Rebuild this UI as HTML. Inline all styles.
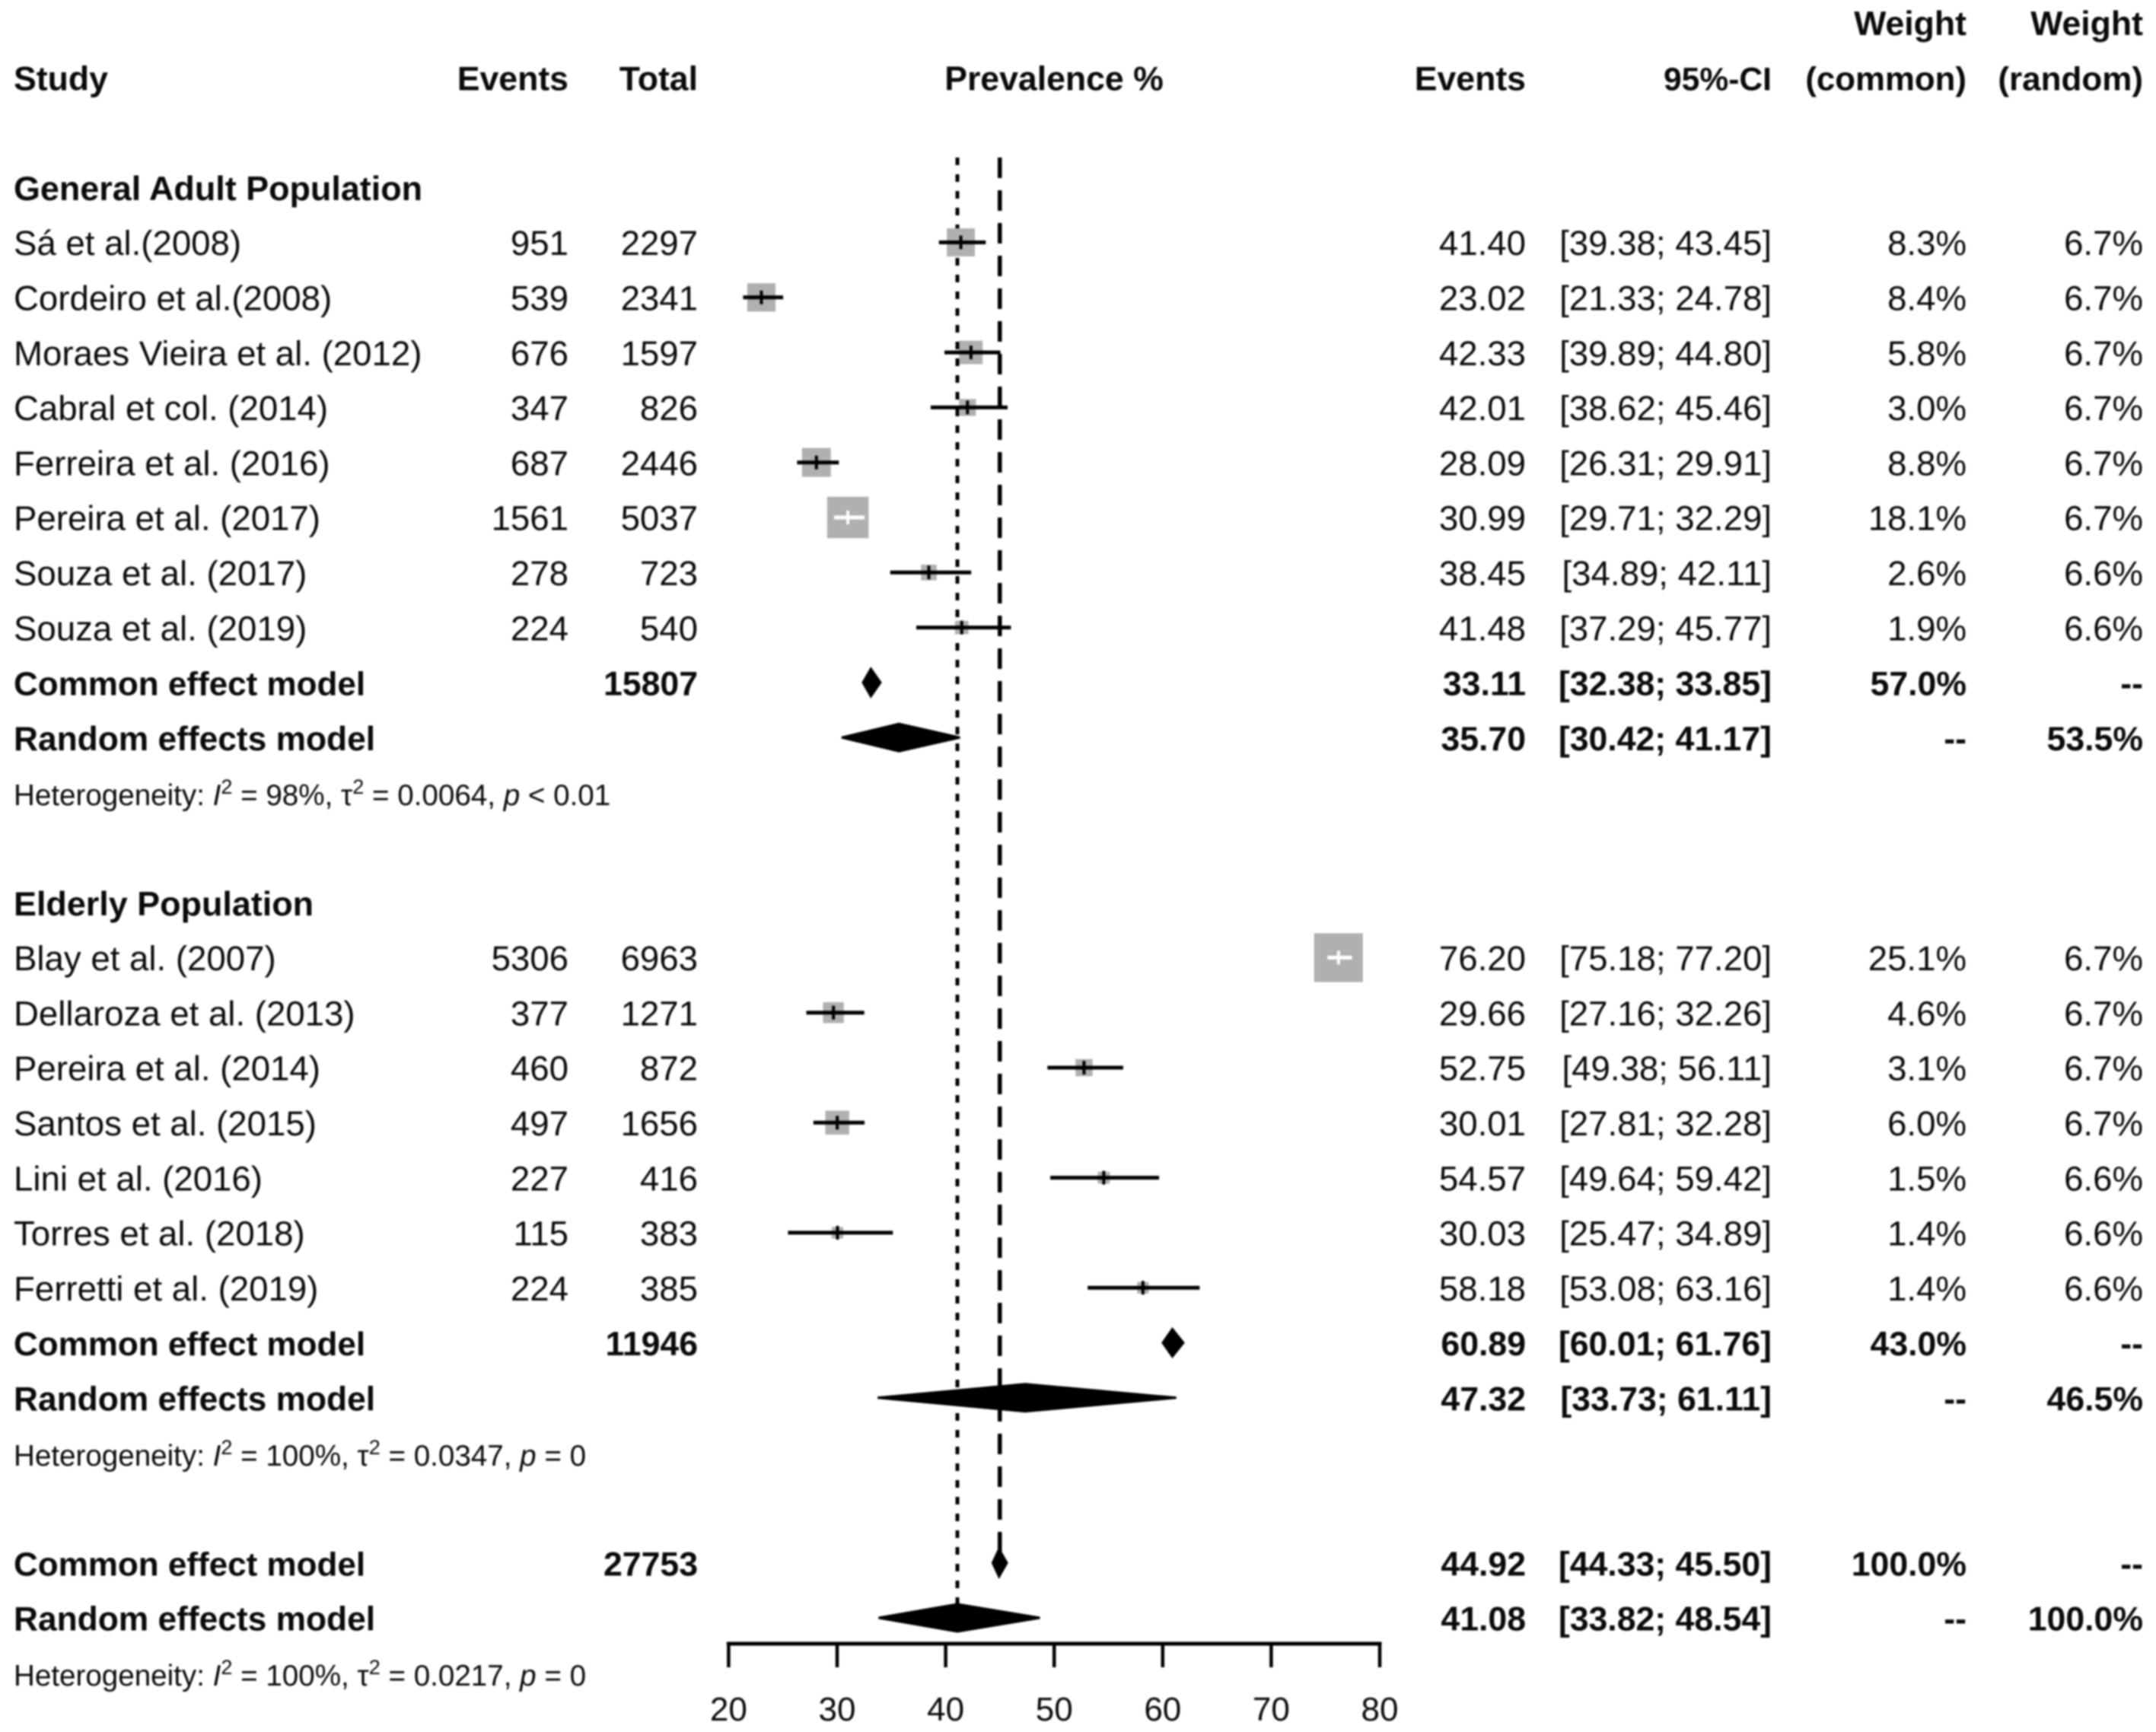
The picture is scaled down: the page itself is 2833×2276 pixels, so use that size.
<!DOCTYPE html>
<html lang="en">
<head>
<meta charset="utf-8">
<title>Forest plot of prevalence</title>
<style>
html,body{margin:0;padding:0;background:#fff;width:2833px;height:2276px;overflow:hidden}
svg{display:block;filter:blur(1px)}
text{font-family:"Liberation Sans",Arial,sans-serif;fill:#0a0a0a}
</style>
</head>
<body>
<svg id="plot" xmlns="http://www.w3.org/2000/svg" width="2833" height="2276" viewBox="0 0 2833 2276"></svg>
<script>
// ---- Data ----
const groupNames = ["General Adult Population", "Elderly Population"];
const groupSizes = [8, 7];
const studyLabels = ["Sá et al.(2008)", "Cordeiro et al.(2008)", "Moraes Vieira et al. (2012)", "Cabral et col. (2014)", "Ferreira et al. (2016)", "Pereira et al. (2017)", "Souza et al. (2017)", "Souza et al. (2019)", "Blay et al. (2007)", "Dellaroza et al. (2013)", "Pereira et al. (2014)", "Santos et al. (2015)", "Lini et al. (2016)", "Torres et al. (2018)", "Ferretti et al. (2019)"];
const eventCounts = [951, 539, 676, 347, 687, 1561, 278, 224, 5306, 377, 460, 497, 227, 115, 224];
const totalCounts = [2297, 2341, 1597, 826, 2446, 5037, 723, 540, 6963, 1271, 872, 1656, 416, 383, 385];
const prevalence = [41.40, 23.02, 42.33, 42.01, 28.09, 30.99, 38.45, 41.48, 76.20, 29.66, 52.75, 30.01, 54.57, 30.03, 58.18];
const ciLower = [39.38, 21.33, 39.89, 38.62, 26.31, 29.71, 34.89, 37.29, 75.18, 27.16, 49.38, 27.81, 49.64, 25.47, 53.08];
const ciUpper = [43.45, 24.78, 44.80, 45.46, 29.91, 32.29, 42.11, 45.77, 77.20, 32.26, 56.11, 32.28, 59.42, 34.89, 63.16];
const weightCommon = [8.3, 8.4, 5.8, 3.0, 8.8, 18.1, 2.6, 1.9, 25.1, 4.6, 3.1, 6.0, 1.5, 1.4, 1.4];
const weightRandom = [6.7, 6.7, 6.7, 6.7, 6.7, 6.7, 6.6, 6.6, 6.7, 6.7, 6.7, 6.7, 6.6, 6.6, 6.6];

const groupCommonTotal = [15807, 11946, 27753];
const commonEstimate = [33.11, 60.89, 44.92];
const commonLower = [32.38, 60.01, 44.33];
const commonUpper = [33.85, 61.76, 45.50];
const commonWeight = ["57.0%", "43.0%", "100.0%"];
const randomEstimate = [35.70, 47.32, 41.08];
const randomLower = [30.42, 33.73, 33.82];
const randomUpper = [41.17, 61.11, 48.54];
const randomWeight = ["53.5%", "46.5%", "100.0%"];

const hetI2 = ["98%", "100%", "100%"];
const hetTau2 = ["0.0064", "0.0347", "0.0217"];
const hetP = ["< 0.01", "= 0", "= 0"];

const axisTicks = [20, 30, 40, 50, 60, 70, 80];

// ---- Axis functions ----
function xScale(v) { return 957.4 + (v - axisTicks[0]) * (1813 - 957.4) / (axisTicks[axisTicks.length - 1] - axisTicks[0]); }
function rowY(i) { return 318.5 + 72.3 * i; }
function baseY(i) { return rowY(i) + 16.7; }

const NS = "http://www.w3.org/2000/svg";
const svg = document.getElementById("plot");
const FS_REG = 45.6;
const FS_BOLD = 44.6;
const COL = { study: 18, events: 747, total: 917, est: 2005, ci: 2328, wc: 2584, wr: 2816, head: 1385 };

function mk(tag) { const n = document.createElementNS(NS, tag); svg.appendChild(n); return n; }
function txt(x, y, s, anchor, bold, size) {
  const t = mk("text");
  t.setAttribute("x", x);
  t.setAttribute("y", y);
  t.setAttribute("text-anchor", anchor || "start");
  t.setAttribute("font-size", size || (bold ? FS_BOLD : FS_REG));
  if (bold) t.setAttribute("font-weight", "bold");
  t.textContent = s;
  return t;
}
function vline(x, y1, y2, w, color) {
  const l = mk("line");
  l.setAttribute("x1", x); l.setAttribute("x2", x);
  l.setAttribute("y1", y1); l.setAttribute("y2", y2);
  l.setAttribute("stroke", color || "#000");
  l.setAttribute("stroke-width", w);
  return l;
}
function hline(x1, x2, y, w, color) {
  const l = mk("line");
  l.setAttribute("x1", x1); l.setAttribute("x2", x2);
  l.setAttribute("y1", y); l.setAttribute("y2", y);
  l.setAttribute("stroke", color || "#000");
  l.setAttribute("stroke-width", w);
  return l;
}
function diamond(lo, mid, hi, r) {
  const p = mk("polygon");
  const y = rowY(r);
  p.setAttribute("points", xScale(lo) + "," + y + " " + xScale(mid) + "," + (y - 18) + " " + (xScale(hi) + 2) + "," + y + " " + xScale(mid) + "," + (y + 18));
  p.setAttribute("fill", "#000");
  p.setAttribute("stroke", "#000");
  p.setAttribute("stroke-width", 3);
  return p;
}
function ciText(lo, hi) { return "[" + lo.toFixed(2) + "; " + hi.toFixed(2) + "]"; }

// ---- Header ----
let h;
h = txt(COL.wc, baseY(-4), "Weight", "end", true);


h = txt(COL.wr, baseY(-4), "Weight", "end", true);


h = txt(COL.study, baseY(-3), "Study", "start", true);


h = txt(COL.events, baseY(-3), "Events", "end", true);


h = txt(COL.total, baseY(-3), "Total", "end", true);


h = txt(COL.head, baseY(-3), "Prevalence %", "middle", true);


h = txt(COL.est, baseY(-3), "Events", "end", true);


h = txt(COL.ci, baseY(-3), "95%-CI", "end", true, 42.6);


h = txt(COL.wc, baseY(-3), "(common)", "end", true, 43.8);


h = txt(COL.wr, baseY(-3), "(random)", "end", true, 44);



// ---- Reference lines (behind the marks) ----
const overallCommonRow = 24, overallRandomRow = 25;
const refCommon = vline(xScale(commonEstimate[2]) + 1, 207, rowY(overallCommonRow), 5.5);
refCommon.setAttribute("stroke-dasharray", "27 16");


const refRandom = vline(xScale(randomEstimate[2]), 207, rowY(overallRandomRow), 5);
refRandom.setAttribute("stroke-dasharray", "10 12");



// ---- Rows ----
function drawStudy(i, r) {
  const y = rowY(r), b = baseY(r);
  let t;
  t = txt(COL.study, b, studyLabels[i]);
  
  
  t = txt(COL.events, b, String(eventCounts[i]), "end");
  
  
  t = txt(COL.total, b, String(totalCounts[i]), "end");
  
  
  t = txt(COL.est, b, prevalence[i].toFixed(2), "end");
  
  
  t = txt(COL.ci, b, ciText(ciLower[i], ciUpper[i]), "end");
  
  
  t = txt(COL.wc, b, weightCommon[i].toFixed(1) + "%", "end");
  
  
  t = txt(COL.wr, b, weightRandom[i].toFixed(1) + "%", "end");
  
  

  const size = 12.8 * Math.sqrt(weightCommon[i]);
  const cx = xScale(prevalence[i]);
  const sq = mk("rect");
  sq.setAttribute("x", cx - size / 2);
  sq.setAttribute("y", y - size / 2);
  sq.setAttribute("width", size);
  sq.setAttribute("height", size);
  sq.setAttribute("fill", "#b0b0b0");
  
  
  const x1 = xScale(ciLower[i]), x2 = xScale(ciUpper[i]) + 3.5;
  const color = (x2 - x1) < size ? "#fff" : "#000";
  const ci = hline(x1, x2, y, 5, color);
  
  
  const tick = vline(cx, y - 9, y + 9, 4, color);
  
  
}

function drawCommon(k, r) {
  const b = baseY(r);
  let t;
  t = txt(COL.study, b, "Common effect model", "start", true, 44);
  
  
  t = txt(COL.total, b, String(groupCommonTotal[k]), "end", true);
  
  
  t = txt(COL.est, b, commonEstimate[k].toFixed(2), "end", true);
  
  
  t = txt(COL.ci, b, ciText(commonLower[k], commonUpper[k]), "end", true);
  
  
  t = txt(COL.wc, b, commonWeight[k], "end", true);
  
  
  t = txt(COL.wr, b, "--", "end", true);
  
  
  const d = diamond(commonLower[k], commonEstimate[k], commonUpper[k], r);
  
  
}

function drawRandom(k, r) {
  const b = baseY(r);
  let t;
  t = txt(COL.study, b, "Random effects model", "start", true, 44.3);
  
  
  t = txt(COL.est, b, randomEstimate[k].toFixed(2), "end", true);
  
  
  t = txt(COL.ci, b, ciText(randomLower[k], randomUpper[k]), "end", true);
  
  
  t = txt(COL.wc, b, "--", "end", true);
  
  
  t = txt(COL.wr, b, randomWeight[k], "end", true);
  
  
  const d = diamond(randomLower[k], randomEstimate[k], randomUpper[k], r);
  
  
}

function drawHet(k, r) {
  const t = txt(COL.study, baseY(r), "Heterogeneity: ", "start", false, 38.6);
  
  
  t.setAttribute("xml:space", "preserve");
  t.style.whiteSpace = "pre";
  function span(s, italic, sup) {
    const p = document.createElementNS(NS, "tspan");
    p.textContent = s;
    if (italic) p.setAttribute("font-style", "italic");
    if (sup === 1) { p.setAttribute("dy", -15); p.setAttribute("font-size", 27); }
    if (sup === -1) { p.setAttribute("dy", 15); }
    t.appendChild(p);
  }
  span("I", true);
  span("2", false, 1);
  span(" = " + hetI2[k] + ", τ", false, -1);
  span("2", false, 1);
  span(" = " + hetTau2[k] + ", ", false, -1);
  span("p", true);
  span(" " + hetP[k]);
}

let row = -1, si = 0;
groupNames.forEach(function (name, g) {
  const gt = txt(COL.study, baseY(row), name, "start", true, 44.9);
  
  
  row += 1;
  for (let n = 0; n < groupSizes[g]; n++) { drawStudy(si, row); si++; row++; }
  drawCommon(g, row); row++;
  drawRandom(g, row); row++;
  drawHet(g, row); row += 2;
});
row = overallCommonRow;
drawCommon(2, row);
drawRandom(2, row + 1);
drawHet(2, row + 2);

// ---- X axis ----
const axisY = 2160;
const axisLine = hline(xScale(axisTicks[0]) - 2.5, xScale(axisTicks[axisTicks.length - 1]) + 2.5, axisY, 5);


axisTicks.forEach(function (v) {
  const m = vline(xScale(v), axisY, axisY + 31, 4.5);
  
  
  const l = txt(xScale(v), 2261, String(v), "middle", false, 44);
  
  
});
</script>
</body>
</html>
